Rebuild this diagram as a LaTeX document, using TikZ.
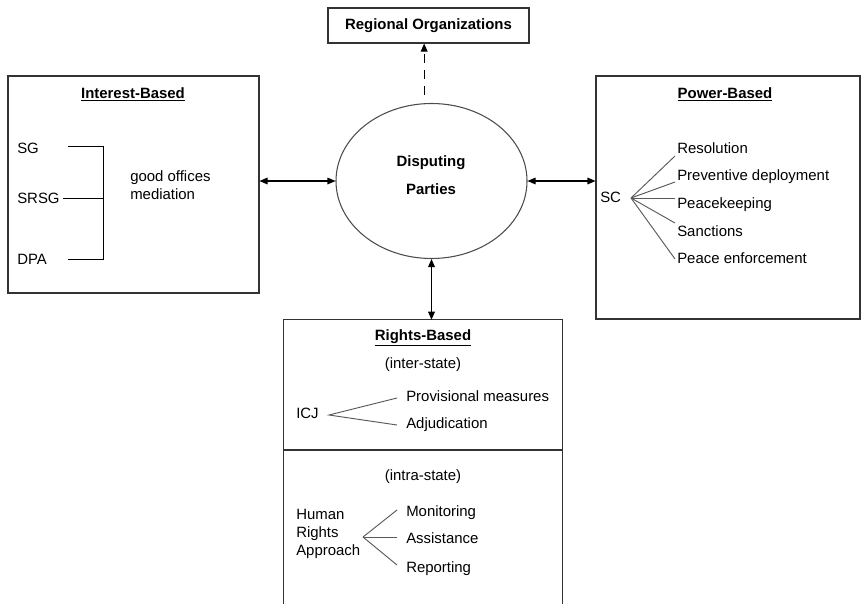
\documentclass[tikz,border=0pt]{standalone}
\usepackage{fontspec}
\setmainfont{Liberation Sans}
\usetikzlibrary{arrows.meta,shapes.geometric}
\begin{document}
\begin{tikzpicture}[x=0.75pt,y=-0.75pt,
  font=\fontsize{11.2}{13.5}\selectfont,
  box/.style={draw=black!80,line width=0.8pt,rectangle,inner sep=0},
  txt/.style={inner sep=0,anchor=base west},
  ctxt/.style={inner sep=0,anchor=base},
  ttl/.style={inner sep=0,anchor=base,font=\fontsize{11.2}{13.5}\selectfont\bfseries},
  fan/.style={draw=black!65,line width=0.7pt},
  brk/.style={draw=black,line width=0.7pt},
  arr/.style={draw=black,line width=0.8pt,{Triangle[length=6pt,width=5pt]}-{Triangle[length=6pt,width=5pt]}},
  dasharr/.style={draw=black,line width=0.8pt,dash pattern=on 7pt off 5pt,-{Triangle[length=6pt,width=5pt]}}]
\useasboundingbox (0,0) rectangle (862,603);

% Regional organizations
\node[box,minimum width=201*0.75pt,minimum height=35*0.75pt,font=\fontsize{11.2}{13.5}\selectfont\bfseries] (reg) at (428.5,25.5) {Regional Organizations};

% Ellipse
\node[ellipse,draw=black!70,line width=0.8pt,minimum width=191*0.75pt,minimum height=155*0.75pt] (ell) at (431.5,181) {};
\node[ttl] (disp) at (431,166) {Disputing};
\node[ttl] (part) at (431,194) {Parties};

% Interest box
\node[box,minimum width=251*0.75pt,minimum height=217*0.75pt] (interest) at (133.5,184.5) {};
\node[ttl] (ititle) at (133,98) {\underline{Interest-Based}};
\node[txt] (sg) at (17,153) {SG};
\node[txt] (srsg) at (17,203) {SRSG};
\node[txt] (dpa) at (17,264) {DPA};
\coordinate (b1) at (68,146);
\coordinate (b2) at (63,198);
\coordinate (b3) at (68,259);
\coordinate (bk) at (103,198);
\draw[brk] (b1) -- (b1 -| bk) -- (b3 -| bk) -- (b3);
\draw[brk] (b2) -- (bk);
\node[txt] (good) at (130,181) {good offices};
\node[txt] (med) at (130,199) {mediation};

% Power box
\node[box,minimum width=264*0.75pt,minimum height=243*0.75pt] (power) at (728,197.5) {};
\node[ttl] (ptitle) at (725,98) {\underline{Power-Based}};
\node[txt] (sc) at (600,202) {SC};
\coordinate (sco) at (631,198);
\node[txt] (res) at (677,153) {Resolution};
\node[txt] (prev) at (677,180) {Preventive deployment};
\node[txt] (pk) at (677,208) {Peacekeeping};
\node[txt] (sanc) at (677,236) {Sanctions};
\node[txt] (penf) at (677,263) {Peace enforcement};
\coordinate (r1) at (675,156);
\coordinate (r2) at (675,182);
\coordinate (r3) at (675,198);
\coordinate (r4) at (675,223);
\coordinate (r5) at (675,259);
\draw[fan] (sco) -- (r1);
\draw[fan] (sco) -- (r2);
\draw[fan] (sco) -- (r3);
\draw[fan] (sco) -- (r4);
\draw[fan] (sco) -- (r5);

% Rights box (open at the bottom)
\node[inner sep=0,minimum width=278*0.75pt,minimum height=290*0.75pt] (rights) at (423,465) {};
\draw[draw=black!80,line width=0.8pt] (rights.south west) -- (rights.north west) -- (rights.north east) -- (rights.south east);
\coordinate (divl) at (284,450);
\draw[draw=black!80,line width=0.8pt] (divl) -- (divl -| rights.east);
\node[ttl] (rtitle) at (423,340) {\underline{Rights-Based}};
\node[ctxt] (inter) at (423,368) {(inter-state)};
\node[txt] (icj) at (296,418) {ICJ};
\node[txt] (prov) at (406,401) {Provisional measures};
\node[txt] (adj) at (406,428) {Adjudication};
\coordinate (icjo) at (329,415);
\coordinate (i1) at (397,398);
\coordinate (i2) at (397,425);
\draw[fan] (i1) -- (icjo) -- (i2);
\node[ctxt] (intra) at (423,480) {(intra-state)};
\node[txt] (hum) at (296,519) {Human};
\node[txt] (rig) at (296,537) {Rights};
\node[txt] (app) at (296,555) {Approach};
\coordinate (hro) at (363,537);
\coordinate (h1) at (397,510);
\coordinate (h2) at (397,537);
\coordinate (h3) at (397,565);
\node[txt] (mon) at (406,516) {Monitoring};
\node[txt] (ass) at (406,543) {Assistance};
\node[txt] (rep) at (406,572) {Reporting};
\draw[fan] (hro) -- (h1);
\draw[fan] (hro) -- (h2);
\draw[fan] (hro) -- (h3);

% Connectors
\draw[arr] (ell.west -| interest.east) -- (ell.west);
\draw[arr] (ell.east) -- (ell.east -| power.west);
\draw[arr] (ell.south) -- (ell.south |- rights.north);
\draw[dasharr] ([xshift=-5.5pt,yshift=6pt]ell.north) -- ([xshift=-5.5pt]ell.north |- reg.south);
\end{tikzpicture}
\end{document}
